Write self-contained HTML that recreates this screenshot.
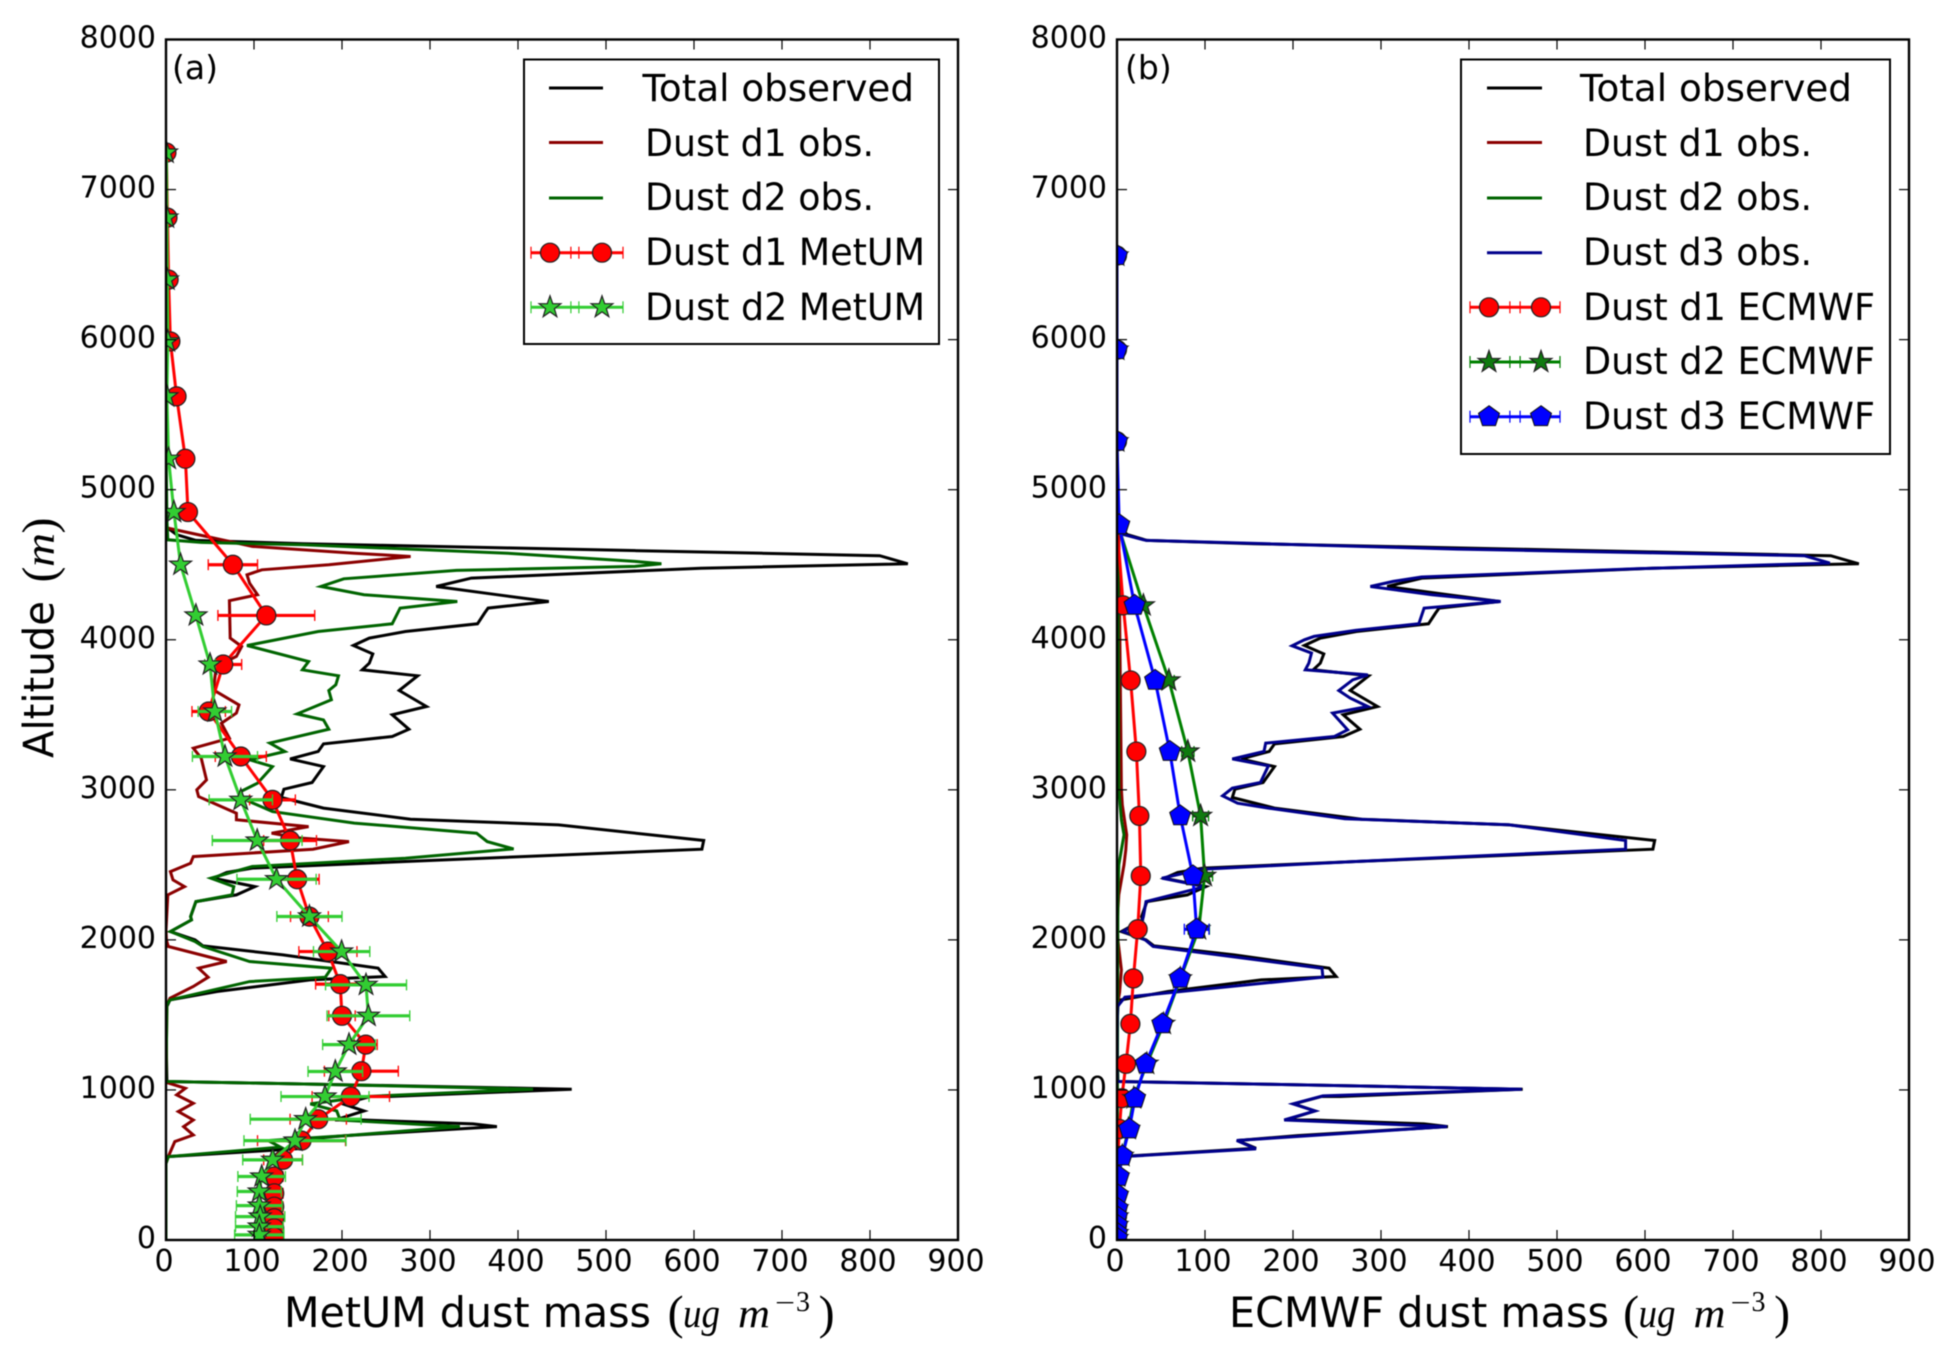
<!DOCTYPE html>
<html lang="en">
<head>
<meta charset="utf-8">
<title>Dust mass profiles</title>
<style>
html,body{margin:0;padding:0;background:#fff;width:1956px;height:1356px;overflow:hidden}
svg{display:block;filter:blur(0.5px)}
text{font-family:"DejaVu Sans","Liberation Sans",sans-serif;fill:#000}
.tick{font-size:30px}
.leg{font-size:37px}
.lab{font-size:42px}
.math{font-family:"Liberation Serif","DejaVu Serif",serif;font-style:italic;font-size:41px}
.up{font-family:"Liberation Serif","DejaVu Serif",serif;font-size:28px}
.paren{font-family:"Liberation Serif","DejaVu Serif",serif;font-size:48px}
</style>
</head>
<body>
<svg id="fig" xmlns="http://www.w3.org/2000/svg" width="1956" height="1356" viewBox="0 0 1956 1356">
  <defs>
    <clipPath id="clipA"><rect x="166" y="39.5" width="792" height="1200.5"/></clipPath>
    <clipPath id="clipB"><rect x="1117" y="39.5" width="792" height="1200.5"/></clipPath>
  </defs>
  <rect width="1956" height="1356" fill="#fff"/>
  <g id="panelA">
    <g id="plotA" clip-path="url(#clipA)"></g>
    <g id="axesA"></g>
    <text x="172" y="79" font-size="33">(a)</text>
    <g transform="translate(53.5,758) rotate(-90)">
      <text class="lab" x="0" y="0" textLength="157" lengthAdjust="spacingAndGlyphs">Altitude</text>
      <text class="paren" x="175.5" y="1.5">(</text>
      <text class="math" x="191" y="0" textLength="34" lengthAdjust="spacingAndGlyphs">m</text>
      <text class="paren" x="224.5" y="1.5">)</text>
    </g>
    <text x="284" y="1327" class="lab" textLength="367" lengthAdjust="spacingAndGlyphs">MetUM dust mass</text>
    <g>
      <text class="paren" x="667.6" y="1328.5">(</text>
      <text class="math" x="683" y="1327" textLength="37" lengthAdjust="spacingAndGlyphs">ug</text>
      <text class="math" x="738" y="1327" textLength="32" lengthAdjust="spacingAndGlyphs">m</text>
      <text class="up" x="775" y="1312" textLength="20" lengthAdjust="spacingAndGlyphs">−</text>
      <text class="up" x="796" y="1311">3</text>
      <text class="paren" x="818.6" y="1328.5">)</text>
    </g>
    <g>
      <rect x="524" y="59.5" width="415" height="284.5" fill="#fff" stroke="#000" stroke-width="2"/>
      <g id="legendA"></g>
      <text class="leg" x="642.5" y="101" textLength="271.5" lengthAdjust="spacingAndGlyphs">Total observed</text>
      <text class="leg" x="645" y="156" textLength="229" lengthAdjust="spacingAndGlyphs">Dust d1 obs.</text>
      <text class="leg" x="645" y="210" textLength="229" lengthAdjust="spacingAndGlyphs">Dust d2 obs.</text>
      <text class="leg" x="645" y="265" textLength="280" lengthAdjust="spacingAndGlyphs">Dust d1 MetUM</text>
      <text class="leg" x="645" y="320" textLength="280" lengthAdjust="spacingAndGlyphs">Dust d2 MetUM</text>
    </g>
  </g>
  <g id="panelB">
    <g id="plotB" clip-path="url(#clipB)"></g>
    <g id="axesB"></g>
    <text x="1125" y="79" font-size="33">(b)</text>
    <text x="1229" y="1327" class="lab" textLength="380" lengthAdjust="spacingAndGlyphs">ECMWF dust mass</text>
    <g transform="translate(955.5,0)">
      <text class="paren" x="667.6" y="1328.5">(</text>
      <text class="math" x="683" y="1327" textLength="37" lengthAdjust="spacingAndGlyphs">ug</text>
      <text class="math" x="738" y="1327" textLength="32" lengthAdjust="spacingAndGlyphs">m</text>
      <text class="up" x="775" y="1312" textLength="20" lengthAdjust="spacingAndGlyphs">−</text>
      <text class="up" x="796" y="1311">3</text>
      <text class="paren" x="818.6" y="1328.5">)</text>
    </g>
    <g>
      <rect x="1461" y="59.5" width="429" height="394.5" fill="#fff" stroke="#000" stroke-width="2"/>
      <g id="legendB"></g>
      <text class="leg" x="1580" y="101" textLength="272" lengthAdjust="spacingAndGlyphs">Total observed</text>
      <text class="leg" x="1583" y="156" textLength="229" lengthAdjust="spacingAndGlyphs">Dust d1 obs.</text>
      <text class="leg" x="1583" y="210" textLength="229" lengthAdjust="spacingAndGlyphs">Dust d2 obs.</text>
      <text class="leg" x="1583" y="265" textLength="229" lengthAdjust="spacingAndGlyphs">Dust d3 obs.</text>
      <text class="leg" x="1583" y="320" textLength="292" lengthAdjust="spacingAndGlyphs">Dust d1 ECMWF</text>
      <text class="leg" x="1583" y="374" textLength="292" lengthAdjust="spacingAndGlyphs">Dust d2 ECMWF</text>
      <text class="leg" x="1583" y="429" textLength="292" lengthAdjust="spacingAndGlyphs">Dust d3 ECMWF</text>
    </g>
  </g>
</svg>
<script>
/* ---------- chart data ---------- */
const xTickLabels = [0,100,200,300,400,500,600,700,800,900];
const yTickLabels = [0,1000,2000,3000,4000,5000,6000,7000,8000];

const totalObsAlt = [4744,4700,4662,4640,4560,4506,4477,4411,4355,4300,4255,4211,4178,4106,4055,4011,3962,3906,3844,3800,3760,3662,3555,3500,3404,3355,3306,3255,3206,3155,3049,3004,2949,2878,2804,2766,2662,2604,2522,2478,2449,2411,2355,2300,2255,2155,2133,2056,2000,1960,1900,1811,1756,1733,1656,1600,1556,1411,1056,1038,1005,956,956,907,860,800,800,774,756,696,663,611,556,511,0];
const totalObsMass = [2,12,34,156,811,843,608,347,307,376,435,366,362,354,272,231,213,235,231,223,286,265,296,257,276,257,179,173,141,179,166,134,131,179,278,446,611,609,272,98,69,54,101,80,34,28,29,5,33,42,133,241,249,164,58,4.5,1,0,1,171,461,254,232,201,225,192,224,349,376,205,137,158,2.6,0,0];

const d1ObsAlt = [4744,4622,4577,4555,4500,4466,4433,4377,4300,4260,4011,3955,3889,3822,3666,3566,3511,3444,3344,3277,3211,3066,3000,2955,2844,2800,2755,2711,2680,2655,2604,2555,2511,2455,2400,2355,2300,2066,2000,1956,1856,1811,1751,1689,1611,1567,1056,1049,1011,967,911,856,800,756,700,656,556,511,0];
const d1ObsMass = [2,98,214,278,185,109,92,95,104,72,73,86,80,57,54,83,80,63,72,31,40,46,35,37,80,80,162,120,148,208,167,31,28,5,8,21,2,0,0.4,2.6,69,37,48,31,4.5,1,0,1,22,12,31,14,31,20,31,10,2.6,0,0];

const d2ObsAlt = [5300,4800,4666,4649,4633,4577,4522,4506,4489,4462,4406,4355,4300,4255,4211,4106,4055,3962,3855,3800,3760,3700,3662,3600,3506,3466,3404,3311,3255,3200,3155,3044,2989,2944,2855,2778,2711,2655,2606,2544,2489,2411,2355,2300,2255,2155,2133,2056,1989,1956,1856,1811,1751,1722,1600,1567,1056,1038,1005,956,907,860,800,756,696,663,619,556,511,0];
const d2ObsMass = [0,1,2,40,156,388,533,563,533,330,202,176,225,331,266,257,173,92,162,155,196,193,185,188,149,179,185,118,135,95,121,104,85,86,121,214,353,365,395,272,98,51,77,75,34,28,29,5,33,42,95,188,181,95,4.5,1,0,171,417,228,164,194,198,334,205,116,130,2.6,0,0];

const d3ObsAlt = [4711,4693,4662,4604,4560,4511,4473,4418,4389,4355,4300,4255,4211,4106,4062,4022,4000,3960,3911,3844,3800,3766,3733,3662,3611,3555,3511,3400,3355,3311,3255,3206,3160,3049,3011,2960,2911,2878,2807,2767,2662,2604,2522,2471,2411,2355,2255,2155,2133,2056,2000,1956,1811,1751,1618,1556,1378,1056,1038,1005,960,907,860,800,756,663,607,560,556,511,0];
const d3ObsMass = [1,13,33,387,781,810,590,346,314,288,358,436,349,343,271,224,213,199,221,218,214,285,268,252,265,285,245,262,247,169,167,131,172,163,131,120,137,172,259,445,578,578,271,97,51,100,33,30,29,7,32,41,233,234,9,0.4,0,0,170,460,234,200,225,190,375,136,158,19,1.5,0,0];

const bD1ObsAlt = [4700,3000,2900,2700,2600,2500,2300,2100,2000,1800,1650,1550,0];
const bD1ObsMass = [2,5,6,11,10,8,2,0,1,5,3,0,0];
const bD2ObsAlt = [4700,3000,2800,2700,2600,2500,2300,0];
const bD2ObsMass = [1,2,5,8,5,2,1,0];

const metumD1Alt = [7246,6813,6400,5988,5622,5206,4851,4500,4162,3835,3522,3222,2933,2662,2404,2155,1922,1705,1494,1302,1125,956,805,662,534,423,311,222,145,78,18];
const metumD1Mass = [0.5,1.7,3,5,12,22,25,76,114,65,48.5,85,121,141,149,163,184,198,200,227,222,210,173,154,133,123,123,123,123,123,123];
const metumD1Err = [0,0,0,0,0,0,0,28,55,21,19,29,26,30,25,21.5,33,28,15,13,42,44,32,50,22,10,10,10,10,10,10];

const metumD2Alt = [7246,6813,6400,5988,5622,5206,4851,4500,4162,3835,3522,3222,2933,2662,2404,2156,1922,1700,1494,1302,1123,956,805,662,534,423,323,229,156,89,34];
const metumD2Mass = [0.5,1,1.5,2,1,3,9,16.6,34,50,55.5,67,85,103.6,125.6,163,199.6,227.3,230,208,192.4,180.7,158.7,146.6,121.2,108.7,106,106,107,106,106];
const metumD2Err = [0,0,0,0,0,0,0,0,0,6,19,37,36,51,45,37,32,46,47,30,31,50,63,58,34,27,25,26,28,27,28];

const ecmwfAlt = [6560,5933,5322,4766,4229,3729,3255,2826,2426,2071,1743,1440,1174,945,740,560,423,300,211,156,100,45,12];
const ecmwfD1Mass = [0,0,0,0,7,15.5,22,25.4,27,23.5,18.6,15.2,10.2,5.3,2.7,1,0,0,0,0,0,0,0];
const ecmwfD1Err = [0,0,0,0,1,1,1,1,1,1,1,1,1,1,0,0,0,0,0,0,0,0,0];
const ecmwfD2Mass = [0,0,0,1,30,59,80.5,95,99.6,93,72,53,34,19,13,6,1,0,0,0,0,0,0];
const ecmwfD2Err = [0,0,0,0,3,6,7,9,9,12,4,3,3,2,1,1,0,0,0,0,0,0,0];
const ecmwfD3Mass = [0,0,0,2.5,20,43.3,60,71.8,86.3,90.5,71.6,51.5,32.6,20.5,14,6,2,1,0.5,0,0,0,0];
const ecmwfD3Err = [0,0,0,0,2,4,4,5,5,14,4,3,3,2,1,1,0,0,0,0,0,0,0];

/* ---------- axis functions ---------- */
const NS = 'http://www.w3.org/2000/svg';
const plotTop = 39.5, plotBottom = 1240, altMax = 8000, massMax = 900, plotWidth = 792;
function yScale(alt){ return plotBottom - alt * (plotBottom - plotTop) / altMax; }
function xScaleFrom(left){ return function(m){ return left + m * plotWidth / massMax; }; }

function svgEl(tag, attrs){
  const el = document.createElementNS(NS, tag);
  for (const k in attrs) el.setAttribute(k, attrs[k]);
  return el;
}
function starPoints(cx, cy, R){
  const pts = [];
  for (let i = 0; i < 10; i++){
    const r = i % 2 ? R * 0.4 : R;
    const a = -Math.PI / 2 + i * Math.PI / 5;
    pts.push((cx + r * Math.cos(a)).toFixed(1) + ',' + (cy + r * Math.sin(a)).toFixed(1));
  }
  return pts.join(' ');
}
function pentPoints(cx, cy, R){
  const pts = [];
  for (let i = 0; i < 5; i++){
    const a = -Math.PI / 2 + i * 2 * Math.PI / 5;
    pts.push((cx + R * Math.cos(a)).toFixed(1) + ',' + (cy + R * Math.sin(a)).toFixed(1));
  }
  return pts.join(' ');
}
function drawMarker(parent, kind, cx, cy, fill){
  let m;
  if (kind === 'circle') {
    m = svgEl('circle', {cx: cx, cy: cy, r: 9.5, fill: fill, stroke: '#222', 'stroke-width': 1.2});
  } else if (kind === 'star') {
    m = svgEl('polygon', {points: starPoints(cx, cy, 11.5), fill: fill, stroke: '#222', 'stroke-width': 1.2});
  } else {
    m = svgEl('polygon', {points: pentPoints(cx, cy, 11), fill: fill, stroke: '#111', 'stroke-width': 1});
  }
  
  
  parent.appendChild(m);
}
function drawObs(parent, x, alts, vals, color, name){
  const pts = alts.map(function(a, i){ return x(vals[i]).toFixed(1) + ',' + yScale(a).toFixed(1); }).join(' ');
  const line = svgEl('polyline', {points: pts, fill: 'none', stroke: color, 'stroke-width': 3, 'stroke-linejoin': 'miter'});
  
  
  parent.appendChild(line);
}
function drawModel(parent, x, alts, vals, errs, color, kind, name, edge){
  const g = svgEl('g', {});
  
  
  alts.forEach(function(a, i){
    if (!errs[i]) return;
    const y = yScale(a), x0 = x(vals[i] - errs[i]), x1 = x(vals[i] + errs[i]);
    const bar = svgEl('line', {x1: x0, x2: x1, y1: y, y2: y, stroke: color, 'stroke-width': 3.2});
    
    
    g.appendChild(bar);
    [x0, x1].forEach(function(cx){
      const cap = svgEl('line', {x1: cx, x2: cx, y1: y - 5.5, y2: y + 5.5, stroke: color, 'stroke-width': 1.3});
      
      
      g.appendChild(cap);
    });
  });
  const pts = alts.map(function(a, i){ return x(vals[i]).toFixed(1) + ',' + yScale(a).toFixed(1); }).join(' ');
  const line = svgEl('polyline', {points: pts, fill: 'none', stroke: color, 'stroke-width': 3});
  
  
  g.appendChild(line);
  alts.forEach(function(a, i){ drawMarker(g, kind, x(vals[i]), yScale(a), edge || color); });
  parent.appendChild(g);
}
function drawAxes(parent, left, labelRight){
  const right = left + plotWidth, x = xScaleFrom(left);
  yTickLabels.forEach(function(v){
    const y = yScale(v);
    [[left, left + 10], [right, right - 10]].forEach(function(p){
      const t = svgEl('line', {x1: p[0], x2: p[1], y1: y, y2: y, stroke: '#000', 'stroke-width': 1.2});
      
      
      parent.appendChild(t);
    });
    const lab = svgEl('text', {x: labelRight, y: y + 8, 'text-anchor': 'end', class: 'tick'});
    
    
    lab.textContent = v;
    parent.appendChild(lab);
  });
  xTickLabels.forEach(function(v){
    const px = x(v);
    [[plotBottom, plotBottom - 10], [plotTop, plotTop + 10]].forEach(function(p){
      const t = svgEl('line', {x1: px, x2: px, y1: p[0], y2: p[1], stroke: '#000', 'stroke-width': 1.2});
      
      
      parent.appendChild(t);
    });
    const lab = svgEl('text', {x: px - 2, y: 1271, 'text-anchor': 'middle', class: 'tick'});
    
    
    lab.textContent = v;
    parent.appendChild(lab);
  });
  const frame = svgEl('rect', {x: left, y: plotTop, width: plotWidth, height: plotBottom - plotTop, fill: 'none', stroke: '#000', 'stroke-width': 2.4});
  
  
  parent.appendChild(frame);
}
function legendLine(parent, x0, x1, y, color){
  const l = svgEl('line', {x1: x0, x2: x1, y1: y, y2: y, stroke: color, 'stroke-width': 3});
  
  
  parent.appendChild(l);
}
function legendModel(parent, x0, x1, m0, m1, y, color, kind, fill){
  legendLine(parent, x0, x1, y, color);
  [x0, x0 + (m0 - x0) * 2.1, x1 - (x1 - m1) * 2.1, x1].forEach(function(cx){
    const c = svgEl('line', {x1: cx, x2: cx, y1: y - 6, y2: y + 6, stroke: color, 'stroke-width': 1.2});
    
    
    parent.appendChild(c);
  });
  drawMarker(parent, kind, m0, y, fill);
  drawMarker(parent, kind, m1, y, fill);
}

/* ---------- draw panel (a) ---------- */
const xA = xScaleFrom(166);
const plotA = document.getElementById('plotA');
drawObs(plotA, xA, totalObsAlt, totalObsMass, '#000', 'total-observed-line');
drawObs(plotA, xA, d1ObsAlt, d1ObsMass, '#8b0000', 'dust-d1-obs-line');
drawObs(plotA, xA, d2ObsAlt, d2ObsMass, '#006400', 'dust-d2-obs-line');
drawModel(plotA, xA, metumD1Alt, metumD1Mass, metumD1Err, '#ff0000', 'circle', 'dust-d1-metum-series');
drawModel(plotA, xA, metumD2Alt, metumD2Mass, metumD2Err, '#32cd32', 'star', 'dust-d2-metum-series');
drawAxes(document.getElementById('axesA'), 166, 156);

const legA = document.getElementById('legendA');
legendLine(legA, 549, 603, 88, '#000');
legendLine(legA, 549, 603, 142.5, '#8b0000');
legendLine(legA, 549, 603, 198, '#006400');
legendModel(legA, 531, 623, 550, 602, 252.7, '#ff0000', 'circle', '#ff0000');
legendModel(legA, 531, 623, 550, 602, 307.3, '#32cd32', 'star', '#32cd32');

/* ---------- draw panel (b) ---------- */
const xB = xScaleFrom(1117);
const plotB = document.getElementById('plotB');
drawObs(plotB, xB, totalObsAlt, totalObsMass, '#000', 'total-observed-line-b');
drawObs(plotB, xB, bD1ObsAlt, bD1ObsMass, '#8b0000', 'dust-d1-obs-line-b');
drawObs(plotB, xB, bD2ObsAlt, bD2ObsMass, '#006400', 'dust-d2-obs-line-b');
drawObs(plotB, xB, d3ObsAlt, d3ObsMass, '#00008b', 'dust-d3-obs-line-b');
drawModel(plotB, xB, ecmwfAlt, ecmwfD1Mass, ecmwfD1Err, '#ff0000', 'circle', 'dust-d1-ecmwf-series');
drawModel(plotB, xB, ecmwfAlt, ecmwfD2Mass, ecmwfD2Err, '#008000', 'star', 'dust-d2-ecmwf-series', '#0f7a0f');
drawModel(plotB, xB, ecmwfAlt, ecmwfD3Mass, ecmwfD3Err, '#0000ff', 'pentagon', 'dust-d3-ecmwf-series');
drawAxes(document.getElementById('axesB'), 1117, 1107);

const legB = document.getElementById('legendB');
legendLine(legB, 1487, 1542, 88, '#000');
legendLine(legB, 1487, 1542, 142.5, '#8b0000');
legendLine(legB, 1487, 1542, 198, '#006400');
legendLine(legB, 1487, 1542, 252.7, '#00008b');
legendModel(legB, 1470, 1560, 1489, 1541, 307.3, '#ff0000', 'circle', '#ff0000');
legendModel(legB, 1470, 1560, 1489, 1541, 362, '#008000', 'star', '#0f7a0f');
legendModel(legB, 1470, 1560, 1489, 1541, 416.7, '#0000ff', 'pentagon', '#0000ff');
</script>
</body>
</html>
